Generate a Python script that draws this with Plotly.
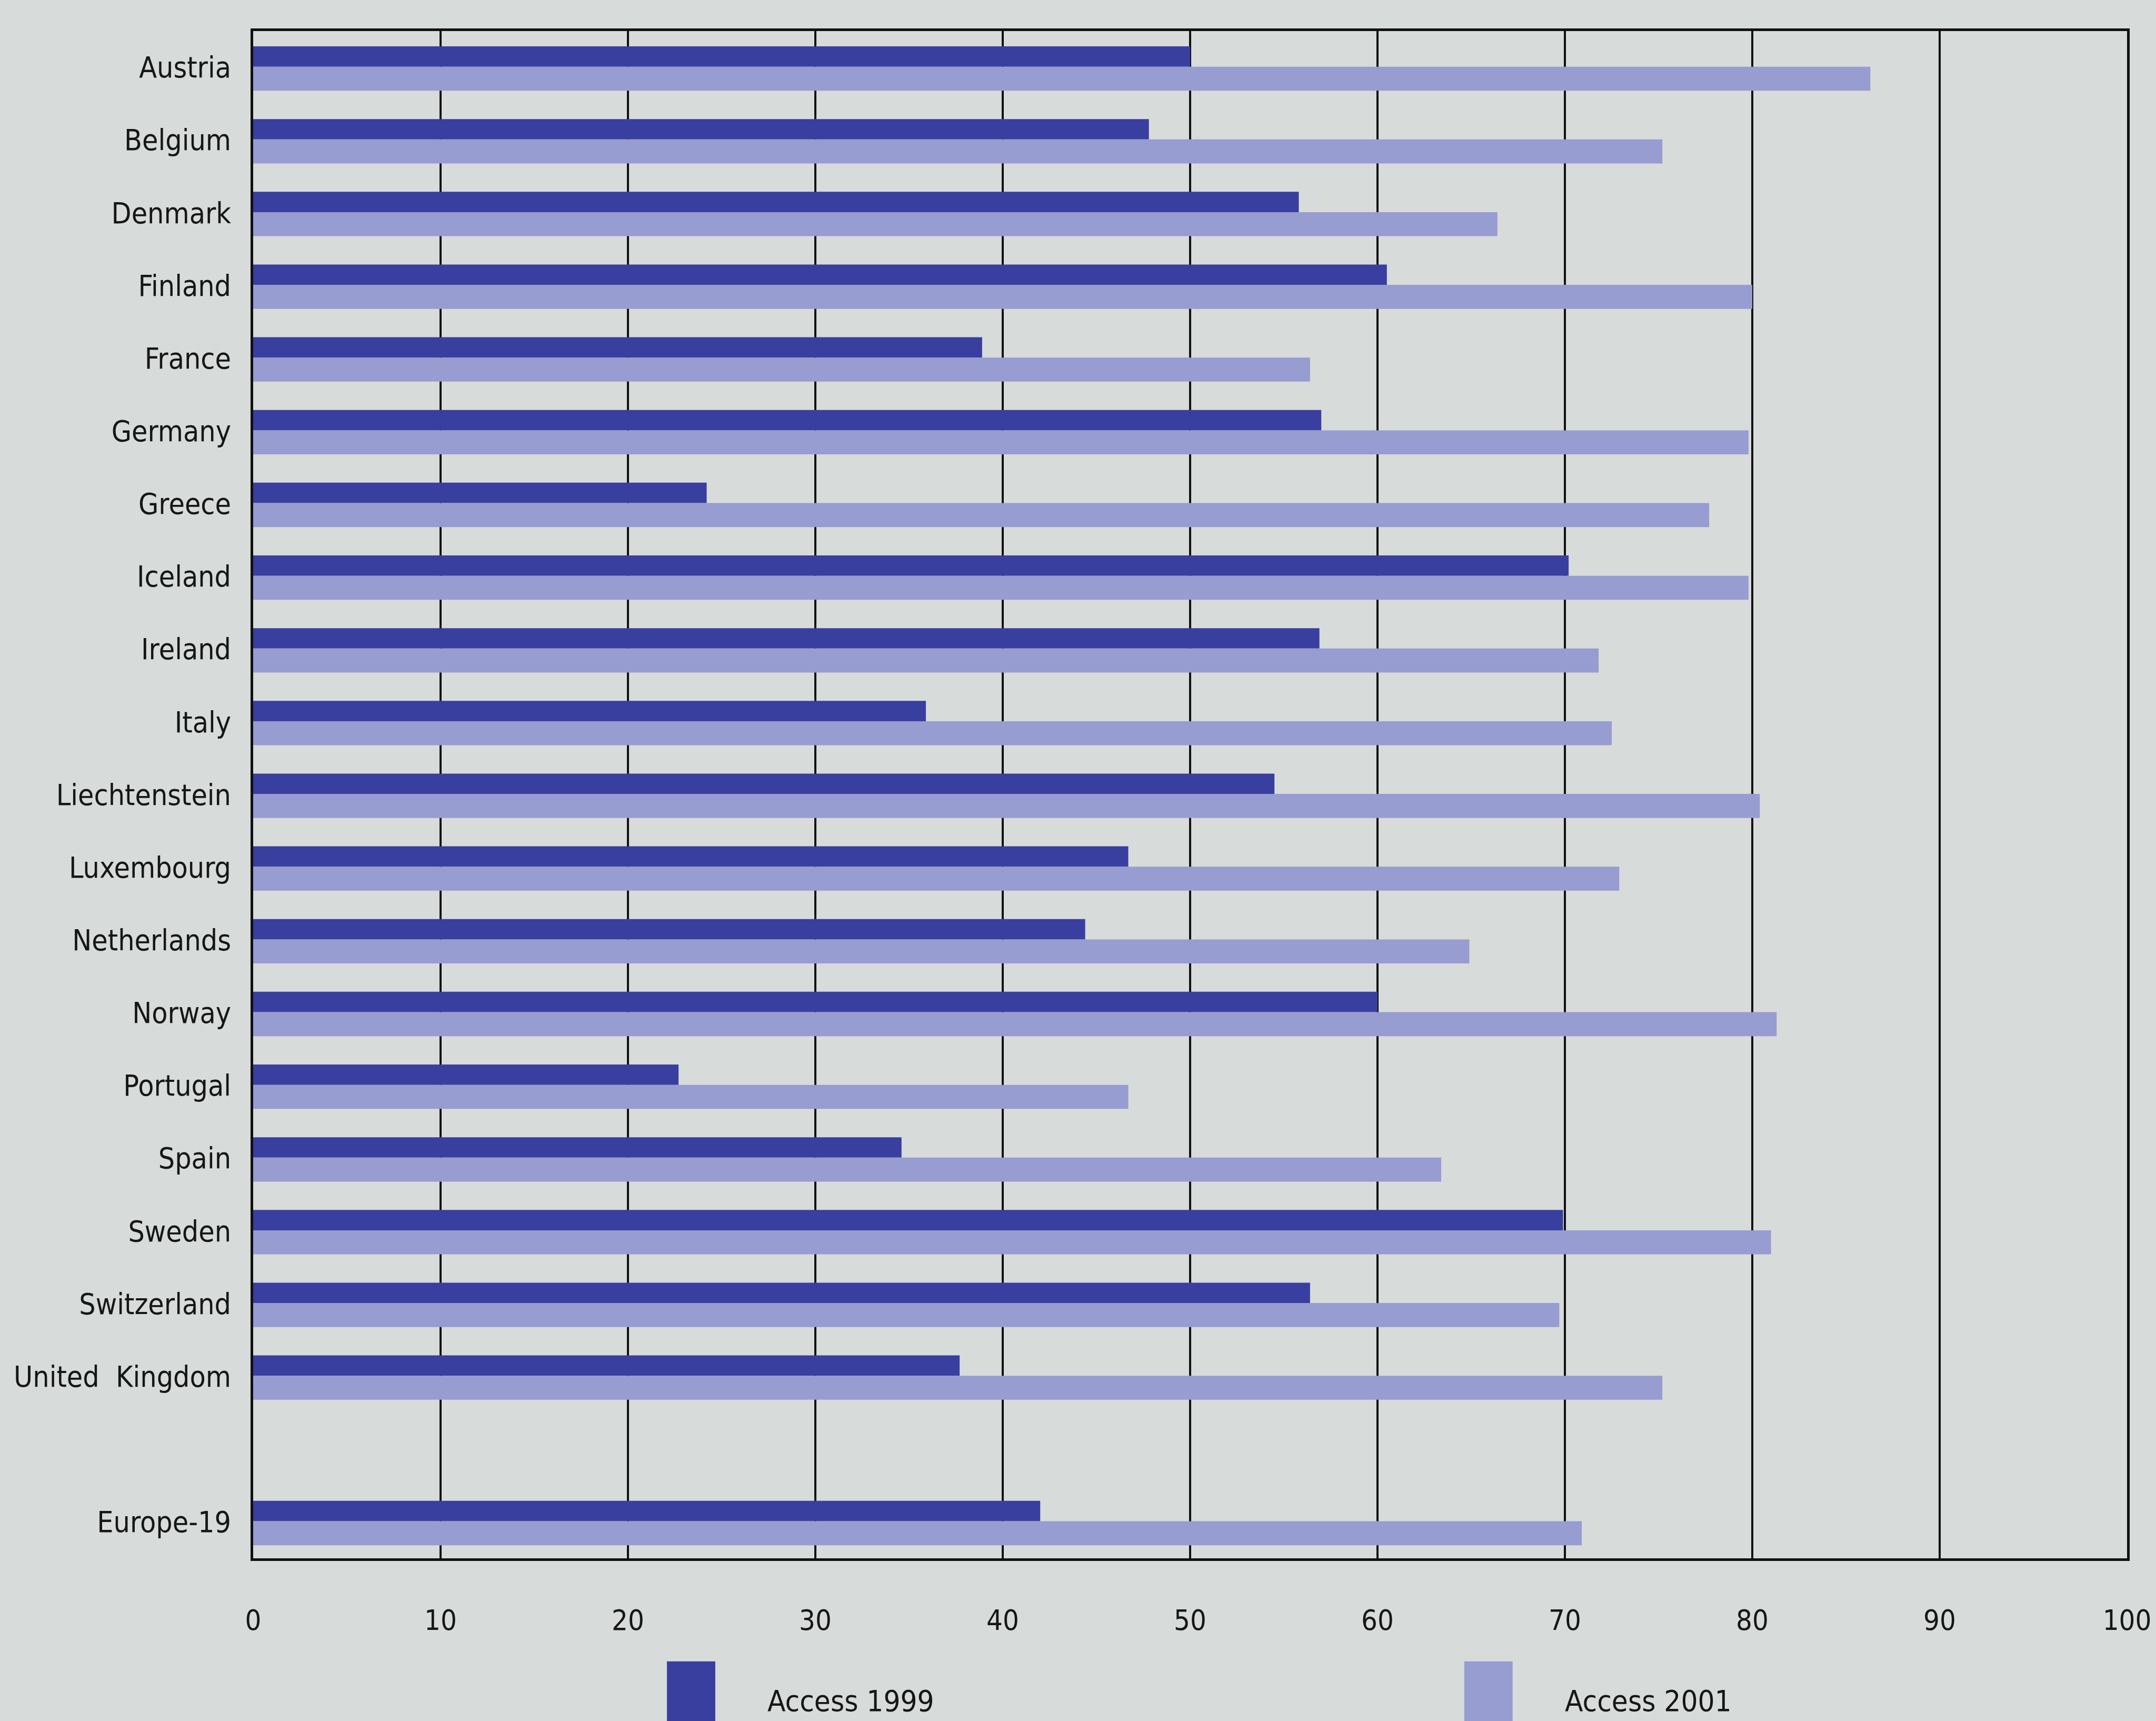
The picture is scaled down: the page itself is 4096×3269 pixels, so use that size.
import plotly.graph_objects as go

# Internet access (%) by country, 1999 vs 2001
COUNTRIES = ["Austria", "Belgium", "Denmark", "Finland", "France", "Germany",
             "Greece", "Iceland", "Ireland", "Italy", "Liechtenstein",
             "Luxembourg", "Netherlands", "Norway", "Portugal", "Spain",
             "Sweden", "Switzerland", "United  Kingdom", " ", "Europe-19"]

ACCESS_1999 = [50.0, 47.8, 55.8, 60.5, 38.9, 57.0, 24.2, 70.2, 56.9, 35.9,
               54.5, 46.7, 44.4, 60.0, 22.7, 34.6, 69.9, 56.4, 37.7, None, 42.0]
ACCESS_2001 = [86.3, 75.2, 66.4, 80.0, 56.4, 79.8, 77.7, 79.8, 71.8, 72.5,
               80.4, 72.9, 64.9, 81.3, 46.7, 63.4, 81.0, 69.7, 75.2, None, 70.9]

SERIES = ["Access 1999", "Access 2001"]
X_TICKS = list(range(0, 101, 10))

DARK = "#393f9f"
LIGHT = "#979cd1"
BG = "#d7dbda"
INK = "#161616"
FONT = "DejaVu Sans Condensed, Liberation Sans Narrow, sans-serif"

# keep only real rows for the bars (the blank row is a spacer)
rows = [(c, a, b) for c, a, b in zip(COUNTRIES, ACCESS_1999, ACCESS_2001) if a is not None]
cats = [r[0] for r in rows]

fig = go.Figure()
fig.add_trace(go.Bar(
    name=SERIES[0], orientation="h", y=cats, x=[r[1] for r in rows],
    width=0.28, offset=-0.29, marker=dict(color=DARK, line=dict(width=0)),
))
fig.add_trace(go.Bar(
    name=SERIES[1], orientation="h", y=cats, x=[r[2] for r in rows],
    width=0.33, offset=-0.01, marker=dict(color=LIGHT, line=dict(width=0)),
))

fig.update_layout(
    width=4096, height=3269, autosize=False,
    margin=dict(l=481, r=55, t=59, b=309, pad=0),
    paper_bgcolor=BG, plot_bgcolor=BG,
    barmode="overlay", showlegend=False,
    font=dict(family=FONT, size=55, color=INK),
)

fig.update_xaxes(
    range=[0, 100], tickvals=X_TICKS, ticktext=[str(v) for v in X_TICKS],
    showgrid=True, gridcolor="#111111", gridwidth=4, zeroline=False,
    showline=True, mirror=True, linecolor="#111111", linewidth=5,
    ticks="", ticklabelstandoff=66, automargin=False,
    tickfont=dict(family=FONT, size=54, color=INK),
)
fig.update_yaxes(
    type="category", categoryorder="array", categoryarray=COUNTRIES,
    range=[len(COUNTRIES) - 0.5, -0.5],
    showgrid=False, zeroline=False,
    showline=True, mirror=True, linecolor="#111111", linewidth=5,
    ticks="", ticklabelstandoff=26, automargin=False,
    tickfont=dict(family=FONT, size=55, color=INK),
)

# Legend: large swatches with labels below the axis
legend_x = [0.2208, 0.6463]
for name, color, x0 in zip(SERIES, [DARK, LIGHT], legend_x):
    fig.add_shape(type="rect", xref="paper", yref="paper",
                  x0=x0, x1=x0 + 0.0258, y0=-0.13, y1=-0.0675,
                  fillcolor=color, line=dict(width=0), layer="above")
    fig.add_annotation(xref="paper", yref="paper", x=x0 + 0.053, y=-0.0933,
                       text=name, showarrow=False, xanchor="left", yanchor="middle",
                       font=dict(family=FONT, size=56, color=INK))

fig.write_html("out.html")
